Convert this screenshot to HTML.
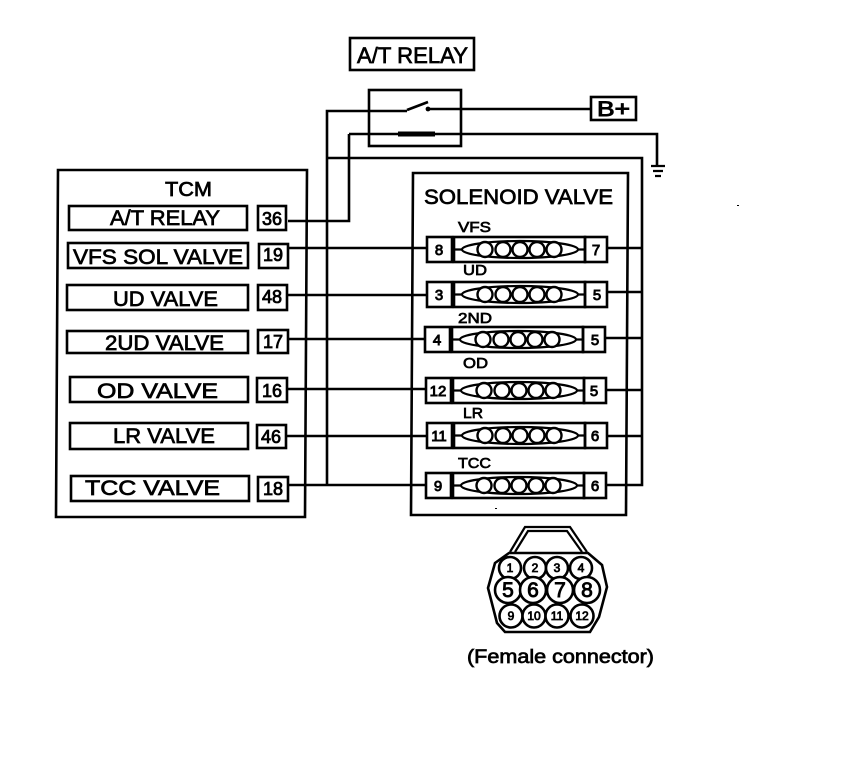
<!DOCTYPE html>
<html><head><meta charset="utf-8"><style>
html,body{margin:0;padding:0;background:#fff}
svg{display:block}
text{font-family:"Liberation Sans",sans-serif;fill:#000;stroke:#000;stroke-width:.7}
.l{fill:none;stroke:#000;stroke-width:2.6}
.w{fill:none;stroke:#000;stroke-width:2.2}
.m{font-size:21px}
.p{font-size:18px;text-anchor:middle;stroke-width:.8}
.s{font-size:15px;stroke-width:.7}
.c{font-size:15px;text-anchor:middle;stroke-width:.9}
.n{font-size:12px;text-anchor:middle;stroke-width:.8}
.b{font-size:21px;text-anchor:middle;stroke-width:.9}
.o{fill:#fff;stroke:#000;stroke-width:2.6}
.e{fill:#fff;stroke:#000;stroke-width:2.4}
</style></head><body>
<svg width="864" height="774" viewBox="0 0 864 774" xmlns="http://www.w3.org/2000/svg">
<defs>
<g id="row">
<rect x="0" y="0" width="25" height="25" class="l"/>
<rect x="27" y="0" width="131" height="25" class="l"/>
<rect x="158" y="0" width="22" height="25" class="l"/>
<path class="w" d="M27 12.5H35M151 12.5H158"/>
<ellipse cx="93" cy="12.5" rx="58" ry="8.5" class="w"/>
<circle cx="58" cy="12.5" r="7.5" class="e"/>
<circle cx="76" cy="12.5" r="7.5" class="e"/>
<circle cx="93" cy="12.5" r="7.5" class="e"/>
<circle cx="110" cy="12.5" r="7.5" class="e"/>
<circle cx="127" cy="12.5" r="7.5" class="e"/>
</g>
</defs>

<!-- A/T relay -->
<rect x="350" y="38" width="124" height="32" class="l"/>
<text x="357" y="63" style="font-size:22px" textLength="111" lengthAdjust="spacingAndGlyphs">A/T RELAY</text>
<rect x="369" y="90" width="92" height="56" class="l"/>
<path class="l" d="M428 109H591"/>
<circle cx="428" cy="109" r="2.4"/>
<path class="l" d="M407 110L428 102"/>
<path class="l" d="M407 111H327V485"/>
<path class="l" d="M349 134H657V165M349 134V221H288"/>
<path d="M398 134H435" stroke="#000" stroke-width="5" fill="none"/>
<rect x="591" y="97" width="45" height="23" class="l"/>
<text x="597" y="116" style="font-size:21px;stroke-width:.9" textLength="33" lengthAdjust="spacingAndGlyphs">B+</text>
<path class="w" d="M651 166H665M653 171H663M655 176H661"/>

<!-- outer return -->
<path class="l" d="M327 158H642V485H607"/>

<!-- TCM -->
<path class="l" d="M58 170H307L305 517H56Z"/>
<text x="165" y="196" style="font-size:20px" textLength="47" lengthAdjust="spacingAndGlyphs">TCM</text>

<rect x="69" y="206" width="178" height="24" class="l"/>
<text x="110" y="225" class="m" textLength="110" lengthAdjust="spacingAndGlyphs">A/T RELAY</text>
<rect x="68" y="243" width="180" height="25" class="l"/>
<text x="73" y="264" class="m" textLength="170" lengthAdjust="spacingAndGlyphs">VFS SOL VALVE</text>
<rect x="67" y="285" width="181" height="25" class="l"/>
<text x="113" y="306" class="m" textLength="105" lengthAdjust="spacingAndGlyphs">UD VALVE</text>
<rect x="67" y="331" width="181" height="22" class="l"/>
<text x="105" y="350" class="m" textLength="119" lengthAdjust="spacingAndGlyphs">2UD VALVE</text>
<rect x="70" y="377" width="178" height="25" class="l"/>
<text x="97" y="398" class="m" textLength="121" lengthAdjust="spacingAndGlyphs">OD VALVE</text>
<rect x="70" y="423" width="178" height="26" class="l"/>
<text x="113" y="443" class="m" textLength="102" lengthAdjust="spacingAndGlyphs">LR VALVE</text>
<rect x="71" y="476" width="178" height="25" class="l"/>
<text x="85" y="495" class="m" textLength="135" lengthAdjust="spacingAndGlyphs">TCC VALVE</text>

<rect x="258" y="206" width="28" height="24" class="l"/><text x="272" y="225" class="p">36</text>
<rect x="259" y="244" width="29" height="24" class="l"/><text x="273" y="261" class="p">19</text>
<rect x="258" y="285" width="29" height="25" class="l"/><text x="272" y="303" class="p">48</text>
<rect x="258" y="330" width="30" height="23" class="l"/><text x="273" y="348" class="p">17</text>
<rect x="257" y="378" width="30" height="24" class="l"/><text x="272" y="397" class="p">16</text>
<rect x="257" y="425" width="29" height="23" class="l"/><text x="271" y="443" class="p">46</text>
<rect x="258" y="477" width="30" height="24" class="l"/><text x="273" y="495" class="p">18</text>

<!-- wires -->
<path class="l" d="M288 248H427M287 295H427M288 339H425M287 389H426M286 436H427M288 485H426"/>
<path class="l" d="M607 248H642M608 292H642M606 338H642M606 390H642M607 436H642"/>

<!-- Solenoid -->
<path class="l" d="M413 173H628L626 515H411Z"/>
<text x="424" y="204" class="m" textLength="189" lengthAdjust="spacingAndGlyphs">SOLENOID VALVE</text>

<text x="458" y="232" class="s" textLength="33" lengthAdjust="spacingAndGlyphs">VFS</text>
<use href="#row" x="427" y="237"/>
<text x="439" y="255" class="c">8</text><text x="596" y="255" class="c">7</text>
<text x="463" y="275" class="s" textLength="24" lengthAdjust="spacingAndGlyphs">UD</text>
<use href="#row" x="427" y="282"/>
<text x="439" y="300" class="c">3</text><text x="597" y="300" class="c">5</text>
<text x="458" y="323" class="s" textLength="34" lengthAdjust="spacingAndGlyphs">2ND</text>
<use href="#row" x="425" y="327"/>
<text x="437" y="345" class="c">4</text><text x="595" y="345" class="c">5</text>
<text x="463" y="368" class="s" textLength="25" lengthAdjust="spacingAndGlyphs">OD</text>
<use href="#row" x="426" y="378"/>
<text x="438" y="396" class="c">12</text><text x="594" y="396" class="c">5</text>
<text x="463" y="418" class="s" textLength="20" lengthAdjust="spacingAndGlyphs">LR</text>
<use href="#row" x="427" y="423"/>
<text x="439" y="441" class="c">11</text><text x="595" y="441" class="c">6</text>
<text x="458" y="468" class="s" textLength="33" lengthAdjust="spacingAndGlyphs">TCC</text>
<use href="#row" x="426" y="473"/>
<text x="438" y="491" class="c">9</text><text x="595" y="491" class="c">6</text>

<!-- Female connector -->
<path class="w" d="M510 552L525 527H570L587 552M515 552L528 531H567L582 552"/>
<path class="l" d="M495 563L509 553H588L602 565L607 587L599 617L590 632H505L497 623L488 588Z"/>
<circle cx="510" cy="568" r="11" class="o"/><circle cx="535" cy="568" r="11" class="o"/><circle cx="557" cy="568" r="11" class="o"/><circle cx="581" cy="568" r="11" class="o"/>
<circle cx="508" cy="590" r="13" class="o"/><circle cx="533" cy="590" r="13" class="o"/><circle cx="560" cy="590" r="13" class="o"/><circle cx="587" cy="590" r="13" class="o"/>
<circle cx="511" cy="616" r="11.5" class="o"/><circle cx="534" cy="616" r="11.5" class="o"/><circle cx="557" cy="616" r="11.5" class="o"/><circle cx="582" cy="616" r="11.5" class="o"/>
<text x="510" y="572" class="n">1</text><text x="535" y="572" class="n">2</text><text x="557" y="572" class="n">3</text><text x="581" y="572" class="n">4</text>
<text x="508" y="597" class="b">5</text><text x="533" y="597" class="b">6</text><text x="560" y="597" class="b">7</text><text x="587" y="597" class="b">8</text>
<text x="511" y="620" class="n">9</text><text x="534" y="620" class="n">10</text><text x="557" y="620" class="n">11</text><text x="582" y="620" class="n">12</text>
<text x="467" y="663" style="font-size:19px;stroke-width:.7" textLength="187" lengthAdjust="spacingAndGlyphs">(Female connector)</text>

<rect x="737" y="205" width="2" height="1" fill="#000"/>
<rect x="495" y="508" width="2" height="1" fill="#000"/>
</svg>
</body></html>
